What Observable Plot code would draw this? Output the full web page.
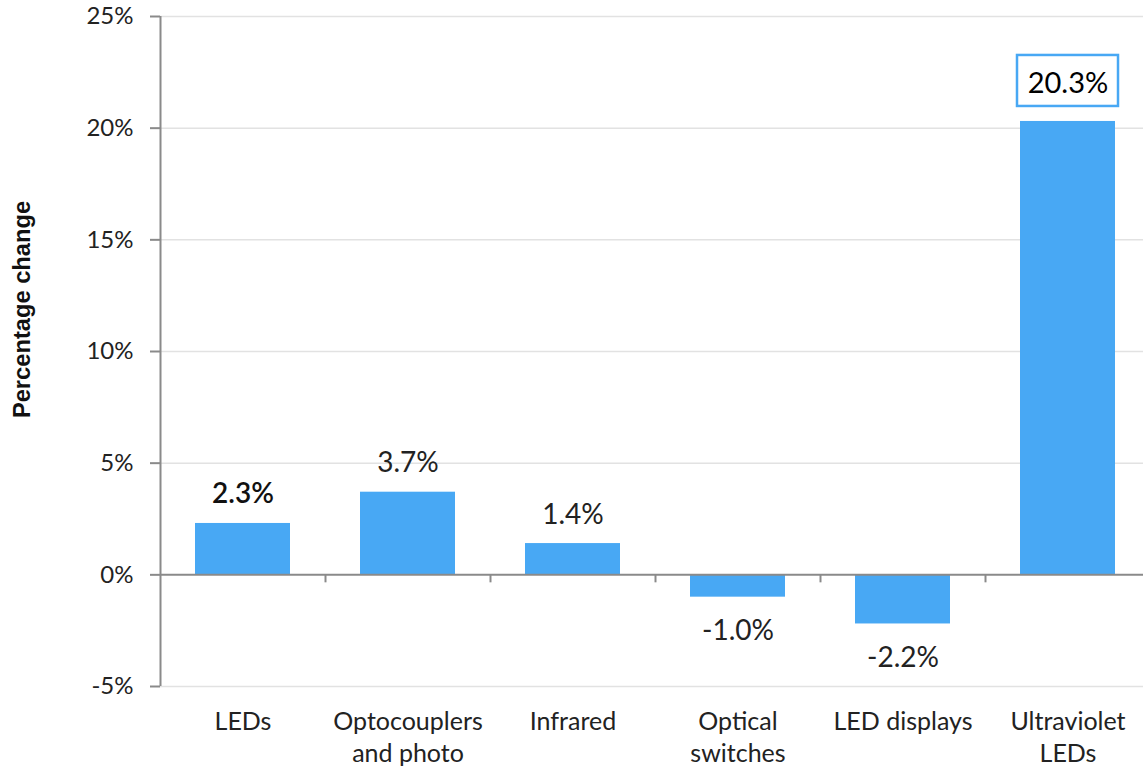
<!DOCTYPE html>
<html>
<head>
<meta charset="utf-8">
<script src="https://cdn.jsdelivr.net/npm/d3@7"></script>
<script src="https://cdn.jsdelivr.net/npm/@observablehq/plot@0.6"></script>
<style>
  html, body { margin: 0; padding: 0; background: #fff; }
  #chart { width: 1143px; height: 771px; overflow: hidden; }
</style>
</head>
<body>
<div id="chart"></div>
<script>
const categories = ["LEDs", "Optocouplers\nand photo", "Infrared", "Optical\nswitches", "LED displays", "Ultraviolet\nLEDs"];
const values = [2.3, 3.7, 1.4, -1.0, -2.2, 20.3];
const yTicks = [-5, 0, 5, 10, 15, 20, 25];
const highlighted = ["Ultraviolet\nLEDs"];
const boldLabels = ["LEDs"];
const yTitle = "Percentage change";

const data = categories.map((c, i) => ({category: c, value: values[i]}));
const fmt = d => `${d.value.toFixed(1)}%`;

const xRange = [160, 1150];
const halfStep = (xRange[1] - xRange[0]) / categories.length / 2;
const barColor = "#48A8F4";
const axisColor = "#8a8a8a";

const plot = Plot.plot({
  width: 1143,
  height: 771,
  marginLeft: 160,
  marginRight: 0,
  marginTop: 16,
  marginBottom: 85,
  style: {fontFamily: "Lato, sans-serif", fontSize: "24px", color: "#222", background: "#fff", overflow: "visible"},
  x: {domain: categories, range: xRange, paddingInner: 0.4242, paddingOuter: 0.2121},
  y: {domain: [-5, 25], range: [686, 16]},
  marks: [
    Plot.ruleY(yTicks.filter(d => d !== 0), {stroke: "#e2e2e2", strokeWidth: 1.5}),
    Plot.barY(data, {x: "category", y: "value", fill: barColor}),
    Plot.ruleY([0], {stroke: axisColor, strokeWidth: 2}),
    Plot.ruleX(categories, {x: d => d, dx: halfStep, y1: 0, y2: 0, insetBottom: -8, stroke: axisColor, strokeWidth: 2}),
    Plot.ruleX([categories[0]], {x: d => d, dx: -halfStep, y1: -5, y2: 25, stroke: axisColor, strokeWidth: 2}),
    Plot.axisY({ticks: yTicks, tickFormat: d => `${d}%`, tickSize: 10, tickPadding: 17, label: null, stroke: axisColor, strokeWidth: 2, fill: "#222"}),
    Plot.axisX({tickSize: 0, tickPadding: 20, label: null, lineHeight: 1.3, fontSize: 25, fill: "#222"}),
    Plot.text(data.filter(d => d.value >= 0 && !highlighted.includes(d.category) && !boldLabels.includes(d.category)),
      {x: "category", y: "value", text: fmt, dy: -20, lineAnchor: "bottom", fontSize: 28, fill: "#222"}),
    Plot.text(data.filter(d => d.value >= 0 && !highlighted.includes(d.category) && boldLabels.includes(d.category)),
      {x: "category", y: "value", text: fmt, dy: -20, lineAnchor: "bottom", fontSize: 28, fontWeight: 600, fill: "#111"}),
    Plot.text(data.filter(d => d.value < 0),
      {x: "category", y: "value", text: fmt, dy: 43, lineAnchor: "bottom", fontSize: 28, fill: "#222"}),
    Plot.barY(data.filter(d => highlighted.includes(d.category)),
      {x: "category", y1: "value", y2: "value", insetTop: -66, insetBottom: 15, insetLeft: -3, insetRight: -3, fill: "#fff", stroke: barColor, strokeWidth: 2.5}),
    Plot.text(data.filter(d => highlighted.includes(d.category)),
      {x: "category", y: "value", text: fmt, dy: -28, lineAnchor: "bottom", fontSize: 29, fill: "#000"}),
    Plot.text([yTitle], {text: d => d, frameAnchor: "left", textAnchor: "middle", rotate: -90, dx: -138, dy: -42, fontFamily: "Liberation Sans, Arial, sans-serif", fontWeight: "bold", fontSize: 23.7, fill: "#111"})
  ]
});
document.getElementById("chart").appendChild(plot);
</script>
</body>
</html>
